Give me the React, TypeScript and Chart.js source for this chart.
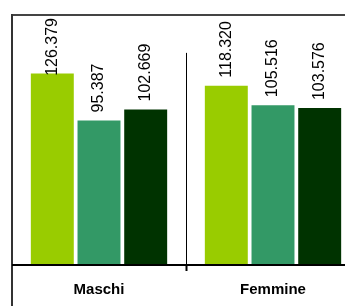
import React, { useEffect, useRef } from "react";
import { Chart, registerables } from "chart.js";

Chart.register(...registerables);

const categories = ["Maschi", "Femmine"];
const seriesNames = ["Serie 1", "Serie 2", "Serie 3"];
const series1 = [126379, 118320];
const series2 = [95387, 105516];
const series3 = [102669, 103576];
const colors = ["#99CC00", "#339966", "#003300"];
const yMax = 165000;
const dividerTopValue = 140000;

const FONT = "'Liberation Sans', Arial, sans-serif";

function fmt(v: number): string {
  return String(Math.round(v)).replace(/\B(?=(\d{3})+(?!\d))/g, ".");
}

const framePlugin = {
  id: "frame",
  afterDatasetsDraw(chart: any) {
    const ctx = chart.ctx;
    const { left, right, top, bottom } = chart.chartArea;
    const x = chart.scales.x;
    const y = chart.scales.y;
    ctx.save();
    // data labels
    ctx.font = `16px ${FONT}`;
    ctx.fillStyle = "#000";
    ctx.textAlign = "left";
    ctx.textBaseline = "middle";
    chart.data.datasets.forEach((ds: any, di: number) => {
      const meta = chart.getDatasetMeta(di);
      meta.data.forEach((bar: any, i: number) => {
        const txt = fmt(ds.data[i]);
        const w = ctx.measureText(txt).width;
        let yb = bar.y - 8;
        if (yb - w < top + 3) yb = top + 3 + w;
        ctx.save();
        ctx.translate(bar.x, yb);
        ctx.rotate(-Math.PI / 2);
        ctx.fillText(txt, 0, 0);
        ctx.restore();
      });
    });
    // frame lines
    ctx.lineCap = "butt";
    ctx.strokeStyle = "#444";
    ctx.lineWidth = 2;
    ctx.beginPath();
    ctx.moveTo(left, top);
    ctx.lineTo(right, top);
    ctx.stroke();
    ctx.strokeStyle = "#333";
    ctx.beginPath();
    ctx.moveTo(left, top - 1);
    ctx.lineTo(left, chart.height);
    ctx.stroke();
    ctx.strokeStyle = "#000";
    ctx.beginPath();
    ctx.moveTo(left, bottom);
    ctx.lineTo(right, bottom);
    ctx.stroke();
    // category divider
    const p0 = x.getPixelForValue(0);
    const p1 = x.getPixelForValue(1);
    const mid = Math.round((p0 + p1) / 2) + 0.5;
    ctx.lineWidth = 1;
    ctx.beginPath();
    ctx.moveTo(mid, y.getPixelForValue(dividerTopValue));
    ctx.lineTo(mid, bottom);
    ctx.stroke();
    ctx.lineWidth = 2;
    ctx.beginPath();
    ctx.moveTo(mid, bottom);
    ctx.lineTo(mid, bottom + 6);
    ctx.stroke();
    ctx.restore();
  },
};

export default function App() {
  const ref = useRef<HTMLCanvasElement>(null);
  useEffect(() => {
    if (!ref.current) return;
    const chart = new Chart(ref.current, {
      type: "bar",
      data: {
        labels: categories,
        datasets: [series1, series2, series3].map((d, i) => ({
          label: seriesNames[i],
          data: d,
          backgroundColor: colors[i],
          borderWidth: 0,
          categoryPercentage: 0.805,
          barPercentage: 0.92,
        })),
      },
      options: {
        responsive: false,
        animation: false,
        layout: { padding: { left: 12, top: 15, right: 2, bottom: 0 } },
        plugins: {
          legend: { display: false },
          tooltip: { enabled: false },
          title: { display: false },
        },
        scales: {
          x: {
            grid: { display: false },
            border: { display: false },
            ticks: {
              color: "#000",
              padding: 8,
              font: { family: FONT, size: 15, weight: "bold" },
            },
          },
          y: {
            display: false,
            min: 0,
            max: yMax,
          },
        },
      },
      plugins: [framePlugin],
    });
    return () => chart.destroy();
  }, []);
  return (
    <div
      style={{
        position: "fixed",
        left: 0,
        top: 0,
        width: 345,
        height: 306,
        overflow: "hidden",
        background: "#fff",
      }}
    >
      <canvas ref={ref} width={362} height={307} style={{ display: "block", width: 362, height: 307 }} />
    </div>
  );
}
